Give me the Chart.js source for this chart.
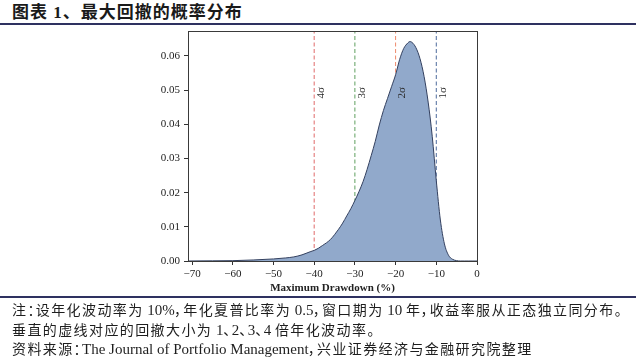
<!DOCTYPE html>
<html>
<head>
<meta charset="utf-8">
<script src="https://cdn.jsdelivr.net/npm/chart.js@4.4.1/dist/chart.umd.min.js"></script>
<style>
  html,body{margin:0;padding:0;background:#fff;}
  #wrap{position:relative;width:640px;height:362px;overflow:hidden;
        font-family:"Liberation Serif","Noto Sans CJK SC",serif;color:#1e1e1e}
  #chart{position:absolute;left:0;top:0}
  .title{position:absolute;left:12px;top:3px;font-size:17px;font-weight:bold;letter-spacing:1px;
         font-family:"Liberation Serif","Noto Sans CJK SC",serif;line-height:20px;color:#1a1a1a}
  .rule{position:absolute;left:0;width:636px;background:#2e3160}
  .note{position:absolute;left:12px;font-size:15px;line-height:18px;white-space:nowrap}
  .note .c{font-family:"Noto Sans CJK SC",sans-serif;font-size:14px;letter-spacing:1.4px;
           font-feature-settings:"palt"}
</style>
</head>
<body>
<div id="wrap">
  <div class="title">图表 1、最大回撤的概率分布</div>
  <div class="rule" style="top:23px;height:2px"></div>
  <canvas id="chart" width="640" height="362"></canvas>
  <div class="rule" style="top:296px;height:1.5px"></div>
  <div class="note" style="top:300px">注：设年化波动率为 10%，年化夏普比率为 0.5，窗口期为 10 年，收益率服从正态独立同分布。</div>
  <div class="note" style="top:319.5px">垂直的虚线对应的回撤大小为 1、2、3、4 倍年化波动率。</div>
  <div class="note" style="top:339px">资料来源：The Journal of Portfolio Management，兴业证券经济与金融研究院整理</div>
</div>
<script>
// 注释文字: 汉字部分用 CJK 字体包起来
document.querySelectorAll('.note').forEach(el=>{
  el.innerHTML = el.textContent.replace(/[\u3000-\u9fff\uff00-\uffef]+/g, m=>`<span class="c">${m}</span>`);
});

// 最大回撤的概率密度
const drawdown = [-71,-65,-60,-55,-50,-47,-45,-43,-41,-40,-39,-38,-37,-36,-35,-34,-33,-32,-31,-30,
                  -29,-28,-27,-26,-25,-24,-23,-22,-21,-20,-19,-18,-17,-16.5,-16,-15,-14,-13,-12,-11,
                  -10,-9,-8,-7,-6,-5,-4,-3,-2,-1,0];
const density  = [0,0.00005,0.0001,0.0003,0.0006,0.0009,0.0012,0.0018,0.0027,0.0031,0.0037,0.0045,0.0053,0.0063,0.0077,0.0093,0.0111,0.0132,0.0153,0.0177,
                  0.0203,0.0232,0.0268,0.0308,0.0350,0.0398,0.0440,0.0475,0.0510,0.0545,0.0590,0.0622,0.0638,0.0642,0.0640,0.0624,0.0592,0.0540,0.0465,0.0365,
                  0.0235,0.0120,0.0050,0.0017,0.0005,0.0001,0,0,0,0,0];

const sigmaX      = [-40,-30,-20,-10];
const sigmaLabels = ['4σ','3σ','2σ','1σ'];
const sigmaColors = ['#e06a6a','#5f9f5f','#ee8a6c','#4d6a9c'];

const xTicks = [-70,-60,-50,-40,-30,-20,-10,0];
const yTicks = [0,0.01,0.02,0.03,0.04,0.05,0.06];
const X_MIN = -71, X_MAX = 0, Y_MAX = 0.0673;
const SIGMA_LABEL_Y = 0.0492;

const serif = "'Liberation Serif', 'DejaVu Serif', serif";

const datasets = [{
  data: drawdown.map((x,i)=>({x, y:density[i]})),
  borderColor:'#33405f', borderWidth:1,
  backgroundColor:'#91a9cb', fill:'origin',
  pointRadius:0, cubicInterpolationMode:'monotone'
}];
sigmaX.forEach((sx,i)=>{
  datasets.push({
    data:[{x:sx,y:0},{x:sx,y:Y_MAX}],
    borderColor:sigmaColors[i], borderWidth:1, borderDash:[4,2.5],
    pointRadius:0, fill:false
  });
});

// 外框 + σ 标签
const framePlugin = {
  id:'frame',
  afterDraw(chart){
    const {ctx, chartArea:a, scales:{x,y}} = chart;
    ctx.save();
    ctx.strokeStyle = '#3a3a3a'; ctx.lineWidth = 1;
    ctx.strokeRect(a.left+0.5, a.top+0.5, a.right-a.left, a.bottom-a.top);
    ctx.fillStyle = '#2a2a2a';
    ctx.font = '11px ' + serif;
    ctx.textAlign = 'center'; ctx.textBaseline = 'middle';
    sigmaX.forEach((sx,i)=>{
      ctx.save();
      ctx.translate(x.getPixelForValue(sx)+7, y.getPixelForValue(SIGMA_LABEL_Y));
      ctx.rotate(-Math.PI/2);
      ctx.fillText(sigmaLabels[i], 0, 0);
      ctx.restore();
    });
    ctx.restore();
  }
};

new Chart(document.getElementById('chart'), {
  type:'line',
  data:{datasets},
  options:{
    responsive:false, animation:false, devicePixelRatio:1,
    layout:{padding:{left:100, right:163, top:31, bottom:67}},
    plugins:{legend:{display:false}, tooltip:{enabled:false}},
    scales:{
      x:{type:'linear', min:X_MIN, max:X_MAX,
         afterBuildTicks:s=>{s.ticks = xTicks.map(v=>({value:v}));},
         afterFit:s=>{s.height = 34;},
         ticks:{color:'#222', font:{family:serif,size:11}, padding:3, maxRotation:0,
                callback:v=> v<0 ? '\u2212'+Math.abs(v) : String(v)},
         grid:{display:true, drawOnChartArea:false, drawTicks:true, tickLength:4, color:'#333'},
         border:{display:true, color:'#3a3a3a'},
         title:{display:true, text:'Maximum Drawdown (%)', color:'#222',
                font:{family:serif, size:11, weight:'bold'}, padding:{top:0,bottom:0}}},
      y:{type:'linear', min:0, max:Y_MAX,
         afterBuildTicks:s=>{s.ticks = yTicks.map(v=>({value:v}));},
         afterFit:s=>{s.width = 88;},
         ticks:{color:'#222', font:{family:serif,size:11}, padding:4,
                callback:v=>v.toFixed(2)},
         grid:{display:true, drawOnChartArea:false, drawTicks:true, tickLength:4, color:'#333'},
         border:{display:true, color:'#3a3a3a'}}
    }
  },
  plugins:[framePlugin]
});
</script>
</body>
</html>
